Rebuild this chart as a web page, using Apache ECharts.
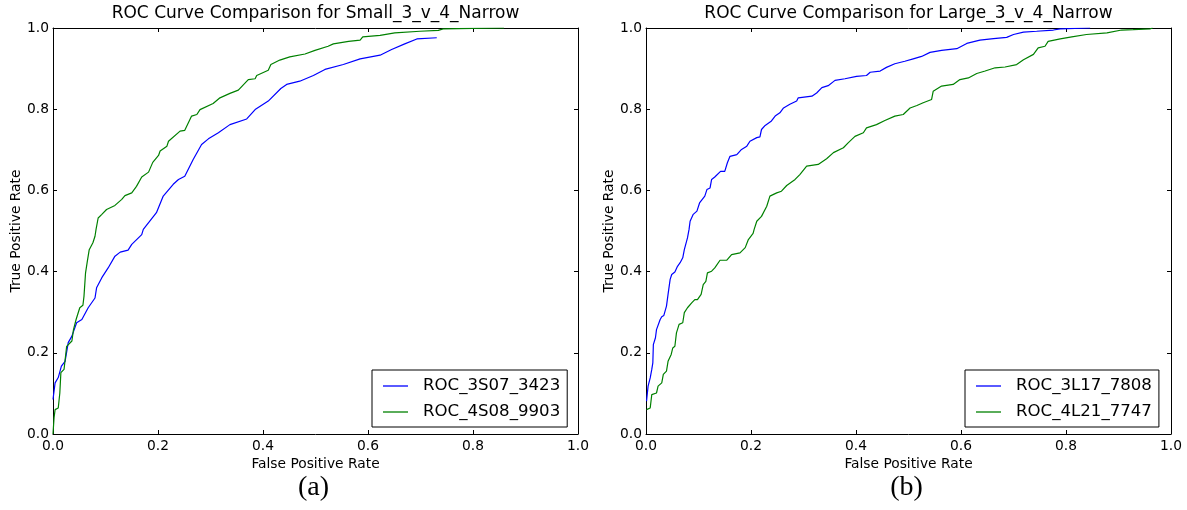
<!DOCTYPE html>
<html>
<head>
<meta charset="utf-8">
<script src="https://cdn.jsdelivr.net/npm/echarts@6/dist/echarts.min.js"></script>
<style>
  html, body { margin: 0; padding: 0; background: #fff; }
  #chart { width: 1187px; height: 510px; }
</style>
</head>
<body>
<div id="chart"></div>
<script>
// ROC curves: false positive rate (x) and true positive rate (y) for each classifier
const smallFpr3S07 = [0.0, 0.004, 0.01, 0.016, 0.023, 0.029, 0.036, 0.045, 0.055, 0.067, 0.08, 0.083, 0.093, 0.105, 0.118, 0.128, 0.143, 0.15, 0.169, 0.172, 0.197, 0.21, 0.229, 0.239, 0.251, 0.267, 0.283, 0.296, 0.315, 0.337, 0.369, 0.385, 0.41, 0.434, 0.445, 0.47, 0.496, 0.518, 0.553, 0.585, 0.623, 0.645, 0.67, 0.693, 0.731];
const smallTpr3S07 = [0.085, 0.126, 0.139, 0.167, 0.179, 0.225, 0.241, 0.274, 0.282, 0.311, 0.335, 0.36, 0.385, 0.409, 0.438, 0.448, 0.453, 0.467, 0.491, 0.504, 0.545, 0.586, 0.615, 0.627, 0.635, 0.676, 0.713, 0.727, 0.742, 0.762, 0.776, 0.799, 0.82, 0.851, 0.861, 0.869, 0.883, 0.898, 0.91, 0.924, 0.933, 0.947, 0.961, 0.973, 0.976];

const smallFpr4S08 = [0.0, 0.002, 0.004, 0.01, 0.013, 0.015, 0.021, 0.024, 0.026, 0.036, 0.039, 0.044, 0.047, 0.051, 0.057, 0.059, 0.062, 0.065, 0.069, 0.076, 0.08, 0.082, 0.083, 0.086, 0.093, 0.102, 0.118, 0.131, 0.137, 0.15, 0.159, 0.169, 0.182, 0.19, 0.201, 0.204, 0.217, 0.22, 0.242, 0.251, 0.264, 0.274, 0.28, 0.305, 0.318, 0.337, 0.353, 0.372, 0.385, 0.388, 0.41, 0.415, 0.432, 0.451, 0.48, 0.499, 0.524, 0.534, 0.563, 0.585, 0.59, 0.623, 0.651, 0.699, 0.734, 0.743, 0.8, 0.859];
const smallTpr4S08 = [0.0, 0.04, 0.06, 0.064, 0.101, 0.151, 0.159, 0.159, 0.216, 0.229, 0.257, 0.282, 0.286, 0.311, 0.317, 0.339, 0.397, 0.422, 0.454, 0.471, 0.487, 0.504, 0.508, 0.532, 0.541, 0.553, 0.563, 0.578, 0.587, 0.594, 0.61, 0.633, 0.645, 0.669, 0.686, 0.697, 0.709, 0.721, 0.746, 0.748, 0.783, 0.787, 0.799, 0.814, 0.828, 0.839, 0.847, 0.873, 0.875, 0.883, 0.896, 0.91, 0.921, 0.929, 0.936, 0.945, 0.955, 0.961, 0.967, 0.97, 0.978, 0.982, 0.988, 0.992, 0.994, 0.998, 0.999, 1.0];

const largeFpr3L17 = [0.001, 0.004, 0.008, 0.011, 0.013, 0.014, 0.018, 0.02, 0.027, 0.03, 0.034, 0.039, 0.042, 0.046, 0.049, 0.055, 0.06, 0.065, 0.07, 0.073, 0.079, 0.082, 0.084, 0.09, 0.097, 0.102, 0.112, 0.116, 0.122, 0.125, 0.131, 0.142, 0.15, 0.155, 0.16, 0.173, 0.182, 0.192, 0.198, 0.211, 0.217, 0.22, 0.227, 0.239, 0.246, 0.255, 0.262, 0.274, 0.287, 0.29, 0.316, 0.325, 0.335, 0.347, 0.36, 0.379, 0.401, 0.42, 0.427, 0.446, 0.458, 0.474, 0.493, 0.509, 0.525, 0.541, 0.563, 0.592, 0.611, 0.636, 0.662, 0.687, 0.7, 0.719, 0.744, 0.776, 0.789, 0.846];
const largeTpr3L17 = [0.081, 0.118, 0.138, 0.159, 0.175, 0.22, 0.237, 0.257, 0.282, 0.289, 0.292, 0.315, 0.344, 0.381, 0.393, 0.399, 0.413, 0.422, 0.434, 0.454, 0.483, 0.504, 0.524, 0.541, 0.549, 0.569, 0.586, 0.602, 0.606, 0.627, 0.633, 0.647, 0.647, 0.668, 0.684, 0.688, 0.701, 0.709, 0.721, 0.73, 0.732, 0.75, 0.76, 0.771, 0.783, 0.791, 0.803, 0.812, 0.82, 0.828, 0.832, 0.84, 0.853, 0.858, 0.871, 0.875, 0.881, 0.883, 0.891, 0.894, 0.903, 0.912, 0.918, 0.924, 0.93, 0.94, 0.945, 0.949, 0.962, 0.97, 0.974, 0.977, 0.984, 0.99, 0.992, 0.995, 0.998, 1.0];

const largeFpr4L21 = [0.001, 0.008, 0.011, 0.02, 0.023, 0.03, 0.033, 0.039, 0.042, 0.048, 0.051, 0.055, 0.058, 0.063, 0.07, 0.073, 0.079, 0.087, 0.093, 0.098, 0.105, 0.109, 0.114, 0.117, 0.125, 0.131, 0.141, 0.154, 0.163, 0.179, 0.189, 0.195, 0.204, 0.206, 0.211, 0.22, 0.23, 0.236, 0.249, 0.258, 0.268, 0.284, 0.293, 0.306, 0.328, 0.344, 0.357, 0.376, 0.385, 0.398, 0.414, 0.42, 0.439, 0.455, 0.474, 0.49, 0.503, 0.516, 0.528, 0.544, 0.547, 0.563, 0.585, 0.598, 0.614, 0.63, 0.646, 0.665, 0.684, 0.706, 0.719, 0.738, 0.747, 0.76, 0.766, 0.789, 0.811, 0.839, 0.878, 0.906, 0.928, 0.96, 0.965];
const largeTpr4L21 = [0.06, 0.064, 0.097, 0.101, 0.118, 0.126, 0.147, 0.155, 0.179, 0.196, 0.212, 0.216, 0.249, 0.27, 0.274, 0.299, 0.311, 0.323, 0.331, 0.331, 0.344, 0.368, 0.376, 0.397, 0.401, 0.409, 0.428, 0.428, 0.442, 0.446, 0.459, 0.479, 0.494, 0.504, 0.524, 0.536, 0.561, 0.586, 0.594, 0.598, 0.612, 0.627, 0.639, 0.66, 0.664, 0.678, 0.693, 0.705, 0.717, 0.733, 0.742, 0.754, 0.762, 0.772, 0.783, 0.787, 0.803, 0.809, 0.816, 0.824, 0.844, 0.857, 0.861, 0.873, 0.877, 0.888, 0.894, 0.902, 0.904, 0.91, 0.922, 0.935, 0.951, 0.955, 0.967, 0.973, 0.978, 0.984, 0.988, 0.995, 0.996, 0.998, 1.0];

const panelTitles = ['ROC Curve Comparison for Small_3_v_4_Narrow', 'ROC Curve Comparison for Large_3_v_4_Narrow'];
const panelTags = ['(a)', '(b)'];
const seriesNames = [['ROC_3S07_3423', 'ROC_4S08_9903'], ['ROC_3L17_7808', 'ROC_4L21_7747']];
const xAxisTitle = 'False Positive Rate';
const yAxisTitle = 'True Positive Rate';

const zip = (xs, ys) => xs.map((x, i) => [x, ys[i]]);
const panelData = [
  [zip(smallFpr3S07, smallTpr3S07), zip(smallFpr4S08, smallTpr4S08)],
  [zip(largeFpr3L17, largeTpr3L17), zip(largeFpr4L21, largeTpr4L21)]
];
const lineColors = ['#0000ff', '#008000'];

const SANS = '"DejaVu Sans", sans-serif';
const plotLefts = [53, 646];
const plotTop = 28, plotW = 525, plotH = 406;

const grids = plotLefts.map(l => ({ left: l, top: plotTop, width: plotW, height: plotH, containLabel: false }));

const fmt = v => v.toFixed(1);
const tickStyle = { show: true, inside: true, length: 4, lineStyle: { color: '#000', width: 1 } };
const lineStyle = { show: true, onZero: false, lineStyle: { color: '#000', width: 1 } };

const xAxes = [], yAxes = [];
[0, 1].forEach(g => {
  xAxes.push({
    type: 'value', gridIndex: g, position: 'bottom', min: 0, max: 1, interval: 0.2,
    axisLine: lineStyle, axisTick: tickStyle, splitLine: { show: false },
    axisLabel: { formatter: fmt, margin: 5, color: '#000', fontFamily: SANS, fontSize: 13.8 },
    name: xAxisTitle, nameLocation: 'middle', nameGap: 20,
    nameTextStyle: { color: '#000', fontFamily: SANS, fontSize: 13.8, verticalAlign: 'top' }
  });
  xAxes.push({
    type: 'value', gridIndex: g, position: 'top', min: 0, max: 1, interval: 0.2,
    axisLine: lineStyle, axisTick: tickStyle, splitLine: { show: false }, axisLabel: { show: false }
  });
  yAxes.push({
    type: 'value', gridIndex: g, position: 'left', min: 0, max: 1, interval: 0.2,
    axisLine: lineStyle, axisTick: tickStyle, splitLine: { show: false },
    axisLabel: { formatter: fmt, margin: 4, color: '#000', fontFamily: SANS, fontSize: 13.8 },
    name: yAxisTitle, nameLocation: 'middle', nameGap: 30, nameRotate: 90,
    nameTextStyle: { color: '#000', fontFamily: SANS, fontSize: 13.8 }
  });
  yAxes.push({
    type: 'value', gridIndex: g, position: 'right', min: 0, max: 1, interval: 0.2,
    axisLine: lineStyle, axisTick: tickStyle, splitLine: { show: false }, axisLabel: { show: false }
  });
});

const series = [];
[0, 1].forEach(g => {
  [0, 1].forEach(k => {
    series.push({
      type: 'line', name: seriesNames[g][k], xAxisIndex: g * 2, yAxisIndex: g * 2,
      data: panelData[g][k], showSymbol: false, symbol: 'none', smooth: false,
      lineStyle: { color: lineColors[k], width: 1.2 }, itemStyle: { color: lineColors[k] },
      animation: false, silent: true
    });
  });
});

const titles = [];
[0, 1].forEach(g => {
  const cx = plotLefts[g] + plotW / 2;
  titles.push({
    text: panelTitles[g], left: cx, top: 5, textAlign: 'center', padding: 0,
    textStyle: { color: '#000', fontFamily: SANS, fontSize: 17, fontWeight: 'normal' }
  });
  titles.push({
    text: panelTags[g], left: cx - 2, top: 474, textAlign: 'center', padding: 0,
    textStyle: { color: '#000', fontFamily: '"Liberation Serif", "Times New Roman", serif', fontSize: 28, fontWeight: 'normal' }
  });
});

const legends = [0, 1].map(g => ({
  data: seriesNames[g], orient: 'vertical',
  left: g === 0 ? 372 : 965, top: 370,
  backgroundColor: '#fff', borderColor: '#000', borderWidth: 1, borderRadius: 0,
  padding: [6, 7, 5, 11], itemGap: 6, itemWidth: 25, itemHeight: 1.3,
  icon: 'rect', selectedMode: false,
  textStyle: { color: '#000', fontFamily: SANS, fontSize: 16.6, lineHeight: 20, padding: [0, 0, 0, 10] }
}));

const chart = echarts.init(document.getElementById('chart'), null, { renderer: 'canvas' });
chart.setOption({
  animation: false,
  backgroundColor: '#fff',
  title: titles,
  legend: legends,
  grid: grids,
  xAxis: xAxes,
  yAxis: yAxes,
  series: series
});
</script>
</body>
</html>
